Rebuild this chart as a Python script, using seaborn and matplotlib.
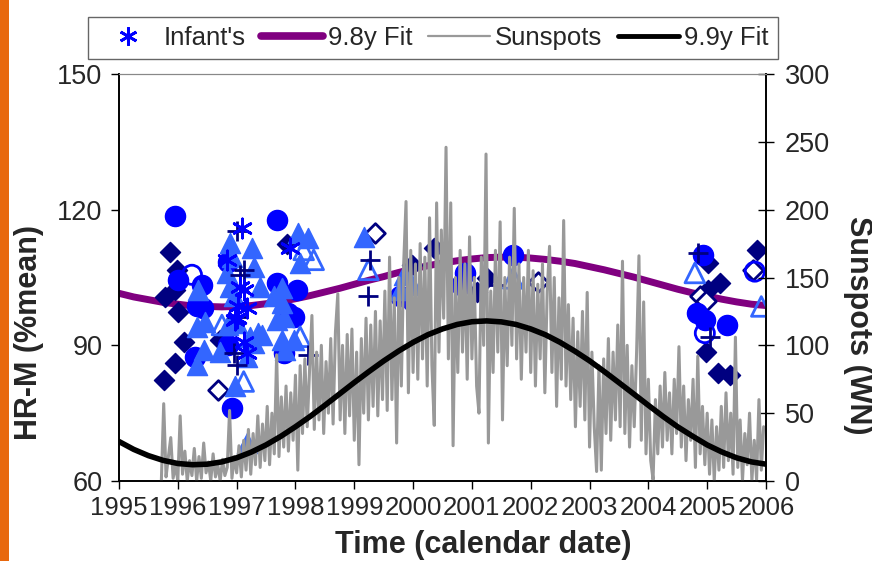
import numpy as np
import pandas as pd
import matplotlib
matplotlib.use("Agg")
import matplotlib.pyplot as plt
from matplotlib.patches import Rectangle
from matplotlib.lines import Line2D
import seaborn as sns

# ---------------- data ----------------
fit_years = [1995.0, 1995.25, 1995.5, 1995.75, 1996.0, 1996.25, 1996.5, 1996.75, 1997.0,
             1997.25, 1997.5, 1997.75, 1998.0, 1998.25, 1998.5, 1998.75, 1999.0, 1999.25,
             1999.5, 1999.75, 2000.0, 2000.25, 2000.5, 2000.75, 2001.0, 2001.25, 2001.5,
             2001.75, 2002.0, 2002.25, 2002.5, 2002.75, 2003.0, 2003.25, 2003.5, 2003.75,
             2004.0, 2004.25, 2004.5, 2004.75, 2005.0, 2005.25, 2005.5, 2005.75, 2006.0]
fit_98y = [101.5, 100.7, 100.1, 99.5, 99.1, 98.7, 98.6, 98.5, 98.6,
           98.8, 99.2, 99.7, 100.3, 101.0, 101.8, 102.6, 103.5, 104.4,
           105.2, 106.1, 106.9, 107.6, 108.2, 108.7, 109.1, 109.4, 109.5,
           109.5, 109.3, 109.0, 108.6, 108.1, 107.4, 106.7, 105.9, 105.1,
           104.2, 103.3, 102.4, 101.6, 100.9, 100.2, 99.6, 99.1, 98.8]
fit_99y = [29.1, 23.3, 18.7, 15.2, 12.9, 12.0, 12.4, 14.1, 17.1,
           21.3, 26.6, 32.9, 40.0, 47.6, 55.8, 64.2, 72.6, 80.7,
           88.5, 95.7, 102.2, 107.8, 112.1, 115.4, 117.4, 118.0, 117.3,
           115.4, 112.1, 107.8, 102.2, 95.7, 88.6, 80.7, 72.5, 64.2,
           55.8, 47.6, 39.9, 33.1, 26.6, 21.4, 17.1, 14.1, 12.4]

sun_start = 1995.72
sun_step = 0.04
sunspots = [
    0, 57, 3, 18, 32, 2, 12, 0, 48, 5, 22, 0, 15, 4, 24, 0, 18, 2, 28, 6,
    14, 0, 20, 3, 12, 0, 16, 4, 10, 52, 2, 18, 6, 26, 3, 30, 8, 38, 5, 35,
    12, 48, 10, 42, 15, 55, 12, 50, 20, 93, 18, 62, 25, 70, 22, 65, 30, 78, 8, 85,
    35, 90, 40, 82, 122, 38, 95, 45, 100, 35, 88, 50, 105, 42, 110, 138, 45, 100, 35, 108,
    48, 112, 30, 95, 12, 105, 50, 120, 45, 115, 55, 125, 48, 118, 60, 140, 52, 165, 60, 135,
    28, 150, 70, 160, 206, 65, 170, 80, 160, 75, 175, 90, 165, 70, 194, 85, 41, 205, 95, 185,
    120, 246, 90, 205, 26, 150, 80, 170, 95, 160, 75, 180, 90, 150, 70, 50, 165, 100, 241, 28,
    140, 80, 170, 95, 191, 45, 150, 85, 165, 100, 201, 90, 160, 75, 150, 95, 170, 80, 155, 70,
    145, 90, 160, 65, 140, 173, 80, 150, 55, 135, 75, 192, 70, 130, 60, 120, 40, 110, 55, 125,
    45, 139, 25, 95, 40, 7, 85, 8, 90, 35, 105, 30, 95, 45, 115, 40, 162, 35, 100, 25,
    85, 40, 95, 166, 30, 132, 20, 75, 15, 1, 60, 20, 70, 25, 80, 30, 65, 20, 75, 35,
    99, 25, 70, 15, 60, 30, 75, 10, 92, 20, 55, 12, 50, 5, 45, 0, 40, 8, 55, 10,
    65, 15, 50, 5, 106, 10, 45, 0, 35, 12, 50, 0, 30, 1, 60, 8, 40]
sun_years = sun_start + sun_step * np.arange(len(sunspots))

# navy filled diamonds
nd_x = [1995.87, 1995.99, 1995.96, 1995.79, 1996.01, 1996.10, 1995.96, 1995.76, 1996.72,
        1997.86, 1999.98, 2000.35, 2001.08, 2001.25, 2005.01, 2005.21, 2005.01, 2004.98,
        2005.18, 2005.38, 2005.84]
nd_y = [110.6, 106.7, 102.3, 100.7, 97.4, 90.8, 86.1, 82.3, 91.2,
        112.3, 107.8, 111.5, 101.9, 104.8, 108.2, 103.7, 102.3, 88.6,
        83.8, 83.5, 111.1]
# navy open diamonds
od_x = [1996.69, 1999.35, 2002.13, 2004.87, 2004.98, 2005.78]
od_y = [80.1, 114.8, 104.1, 100.8, 99.7, 106.7]
# blue filled circles
fc_x = [1995.96, 1996.01, 1996.41, 1996.33, 1996.43, 1996.30, 1996.86, 1996.92, 1996.86,
        1997.69, 1997.69, 1998.02, 1997.88, 1997.80, 1997.97, 1999.78, 2000.88, 2000.82,
        2001.70, 2004.93, 2004.82, 2004.96, 2005.33]
fc_y = [118.6, 104.5, 103.4, 98.6, 98.3, 87.5, 108.5, 76.1, 90.1,
        117.7, 103.7, 102.3, 97.1, 88.3, 96.3, 100.8, 106.0, 103.4,
        110.0, 110.0, 97.1, 95.6, 94.5]
# blue open circles
oc_x = [1996.24, 2000.00, 2004.96, 2005.81]
oc_y = [105.6, 99.7, 92.7, 106.3]
# light blue filled triangles
lt_x = [1996.35, 1996.47, 1996.33, 1996.44, 1996.72, 1996.98, 1996.84, 1996.89, 1996.92,
        1997.26, 1997.29, 1997.40, 1996.89, 1996.95, 1996.86, 1997.01, 1997.37, 1997.29,
        1997.18, 1997.77, 1997.77, 1997.80, 1997.77, 1997.83, 1997.63, 1998.05, 1998.22,
        1998.08, 1997.97, 1996.33, 1997.23, 1997.43, 1997.69, 1997.18, 1999.16, 1999.78,
        1999.84, 1999.98]
lt_y = [102.3, 95.2, 85.7, 89.0, 88.6, 80.9, 106.0, 112.6, 109.6,
        111.5, 107.4, 103.0, 103.0, 100.8, 94.5, 94.9, 92.7, 90.5,
        87.5, 102.6, 99.3, 96.3, 91.2, 89.0, 100.8, 114.8, 113.7,
        108.2, 91.2, 94.1, 91.9, 92.3, 95.6, 68.3, 114.0, 102.3,
        105.6, 103.4]
# light blue open triangles
ot_x = [1996.75, 1997.12, 1998.31, 1998.14, 1998.08, 1999.24, 2001.70, 2004.79, 2005.92]
ot_y = [94.5, 82.0, 108.9, 111.1, 91.9, 106.7, 104.8, 106.0, 98.6]
# navy plus
pl_x = [1997.01, 1997.12, 1997.06, 1997.01, 1996.95, 1997.01, 1998.22, 1999.27, 1999.24,
        2001.39, 2004.84, 2005.04]
pl_y = [115.2, 106.7, 105.6, 96.3, 88.3, 85.7, 87.9, 108.9, 100.8,
        103.4, 110.4, 91.9]
# blue asterisks (Infant's)
as_x = [1997.09, 1996.83, 1997.12, 1997.18, 1997.01, 1997.12, 1997.18, 1997.91, 1997.06,
        1997.03, 1996.98]
as_y = [115.9, 108.9, 102.3, 98.2, 96.0, 90.8, 88.3, 111.5, 103.0,
        98.6, 95.6]

x_ticks = [1995, 1996, 1997, 1998, 1999, 2000, 2001, 2002, 2003, 2004, 2005, 2006]
left_ticks = [60, 90, 120, 150]
right_ticks = [0, 50, 100, 150, 200, 250, 300]
legend_labels = ["Infant's", "9.8y Fit", "Sunspots", "9.9y Fit"]

# ---------------- style ----------------
sns.set_theme(style="white")
plt.rcParams["font.family"] = ["Liberation Sans Narrow", "Liberation Sans", "DejaVu Sans"]

NAVY = "#000080"
BLUE = "#0000FF"
LBLUE = "#3366FF"
PURPLE = "#800080"
GRAY = "#999999"

fig = plt.figure(figsize=(8.72, 5.61), dpi=100)
fig.patch.set_facecolor("white")
ax = fig.add_axes([119 / 872, 1 - 481 / 561, 647 / 872, 407 / 561])
ax.set_facecolor("none")

# orange strip at the far left
fig.patches.append(Rectangle((0, 0), 9 / 872, 1, transform=fig.transFigure,
                             facecolor="#E8680E", edgecolor="none", zorder=0))

# purple fit (bottom)
sns.lineplot(x=fit_years, y=fit_98y, ax=ax, color=PURPLE, lw=5, sort=False,
             estimator=None, zorder=1, legend=False)

def sc(xs, ys, marker, face, edge, s, lw=1.5, z=3):
    sns.scatterplot(x=xs, y=ys, ax=ax, marker=marker, s=s, facecolor=face,
                    edgecolor=edge, linewidth=lw, zorder=z, legend=False)

sc(nd_x, nd_y, "D", NAVY, NAVY, 105, 1, 3)
sc(od_x, od_y, "D", "white", NAVY, 100, 2, 3)
sc(fc_x, fc_y, "o", BLUE, BLUE, 210, 1, 4)
sc(oc_x, oc_y, "o", "none", BLUE, 190, 2, 4)
sc(lt_x, lt_y, "^", LBLUE, LBLUE, 210, 1, 5)
sc(ot_x, ot_y, "^", "none", LBLUE, 200, 2, 5)
sns.scatterplot(x=pl_x, y=pl_y, ax=ax, marker="+", s=200, color=NAVY, linewidth=2,
                zorder=6, legend=False)
sns.scatterplot(x=as_x, y=as_y, ax=ax, marker=(6, 2, 0), s=190, color=BLUE,
                edgecolor=BLUE, linewidth=2, zorder=6, legend=False)

ax.set_xlim(1995, 2006)
ax.set_ylim(60, 150)
ax.set_xticks(x_ticks)
ax.set_xticklabels([str(v) for v in x_ticks])
ax.set_yticks(left_ticks)
ax.set_xlabel("")
ax.set_ylabel("")
ax.tick_params(axis="x", direction="out", length=6, width=1, labelsize=18.5, pad=5,
               color="black", bottom=True)
ax.tick_params(axis="y", direction="out", length=6, width=1, labelsize=19.5, pad=6,
               color="black", left=True)

ax2 = ax.twinx()
sns.lineplot(x=sun_years, y=sunspots, ax=ax2, color=GRAY, lw=2.2, sort=False,
             estimator=None, zorder=2, legend=False)
sns.lineplot(x=fit_years, y=fit_99y, ax=ax2, color="black", lw=4.0, sort=False,
             estimator=None, zorder=3, legend=False)
ax2.set_ylim(0, 300)
ax2.set_yticks(right_ticks)
ax2.set_ylabel("")
ax2.tick_params(axis="y", direction="inout", length=11, width=1, labelsize=19.5, pad=8,
                color="black", right=True)
ax2.set_xlim(1995, 2006)

for a in (ax, ax2):
    for side in ("left", "right", "bottom"):
        a.spines[side].set_color("black")
        a.spines[side].set_linewidth(1.2)
    a.spines["top"].set_color("#888888")
    a.spines["top"].set_linewidth(0.8)
    a.grid(False)

# axis titles
fig.text(483 / 872, 1 - 545 / 561, "Time (calendar date)", ha="center", va="center",
         fontsize=22, fontweight="bold")
fig.text(29 / 872, 1 - 333 / 561, "HR-M (%mean)", ha="center", va="center",
         rotation=90, fontsize=22, fontweight="bold")
fig.text(858 / 872, 1 - 325 / 561, "Sunspots (WN)", ha="center", va="center",
         rotation=270, fontsize=22, fontweight="bold")

# legend
handles = [
    Line2D([], [], ls="none", marker=(6, 2, 0), color=BLUE, ms=13, mew=2),
    Line2D([], [], color=PURPLE, lw=5.5),
    Line2D([], [], color=GRAY, lw=1.6),
    Line2D([], [], color="black", lw=3.5),
]
leg = fig.legend(handles, legend_labels, loc="center", bbox_to_anchor=(433 / 872, 1 - 38 / 561),
                 ncol=4, frameon=True, fancybox=False, fontsize=18.5, handlelength=2.4,
                 handletextpad=0.2, columnspacing=0.6, borderpad=0.35)
leg.get_frame().set_edgecolor("#404040")
leg.get_frame().set_linewidth(1)

fig.savefig("out.png", dpi=100)
